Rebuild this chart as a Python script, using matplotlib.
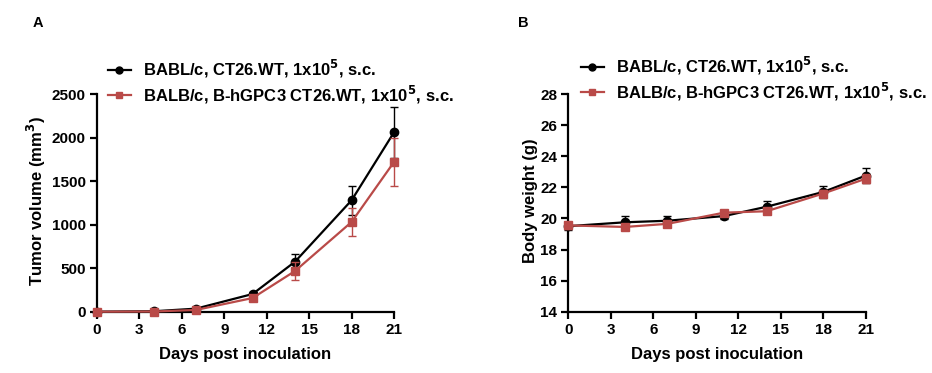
import matplotlib
matplotlib.use("Agg")
import matplotlib.pyplot as plt
from matplotlib.lines import Line2D

plt.rcParams['font.family'] = ['Liberation Sans', 'DejaVu Sans']
plt.rcParams['font.weight'] = 'bold'
plt.rcParams['mathtext.default'] = 'bf'

days = [0, 4, 7, 11, 14, 18, 21]
label_wt = "BABL/c, CT26.WT, 1x10$^{5}$, s.c."
label_hg = "BALB/c, B-hGPC3 CT26.WT, 1x10$^{5}$, s.c."

vol_wt = [0, 5, 35, 203, 574, 1279, 2060]
vol_wt_err = [2, 3, 8, 20, 85, 165, 295]
vol_hg = [0, 2, 20, 157, 467, 1030, 1719]
vol_hg_err = [2, 2, 6, 18, 100, 160, 270]

bw_wt = [19.5, 19.75, 19.85, 20.15, 20.75, 21.7, 22.75]
bw_wt_err = [0.25, 0.4, 0.3, 0.2, 0.35, 0.4, 0.5]
bw_hg = [19.55, 19.45, 19.65, 20.37, 20.46, 21.6, 22.55]
bw_hg_err = [0.2, 0.2, 0.2, 0.2, 0.2, 0.2, 0.3]

xticks = [0, 3, 6, 9, 12, 15, 18, 21]
black = '#000000'
red = '#b94a48'

W, H = 932, 373
fig = plt.figure(figsize=(W / 100, H / 100), dpi=100)
axA = fig.add_axes([97 / W, (H - 311.7) / H, 297 / W, 217.7 / H])
axB = fig.add_axes([568.3 / W, (H - 311.7) / H, 297.4 / W, 217.7 / H])

def style(ax, ylabel, lx):
    for s in ['top', 'right']:
        ax.spines[s].set_visible(False)
    for s in ['left', 'bottom']:
        ax.spines[s].set_linewidth(1.6)
    ax.tick_params(width=1.6, length=5, labelsize=11, direction='out', pad=3)
    for lab in ax.get_xticklabels() + ax.get_yticklabels():
        lab.set_fontweight('bold')
    ax.set_xticks(xticks)
    ax.set_xlim(0, 21)
    ax.set_xlabel('Days post inoculation', fontsize=12, fontweight='bold', labelpad=7)
    ax.set_ylabel(ylabel, fontsize=12, fontweight='bold')
    ax.yaxis.set_label_coords(lx, 0.51)

def draw(ax, y1, e1, y2, e2):
    ax.errorbar(days, y1, yerr=e1, color=black, marker='o', markersize=6,
                linewidth=1.6, elinewidth=1.0, capsize=3, capthick=1.0,
                clip_on=False, zorder=3)
    ax.errorbar(days, y2, yerr=e2, color=red, marker='s', markersize=6,
                linewidth=1.6, elinewidth=1.0, capsize=3, capthick=1.0,
                clip_on=False, zorder=4)

draw(axA, vol_wt, vol_wt_err, vol_hg, vol_hg_err)
axA.set_ylim(0, 2500)
axA.set_yticks([0, 500, 1000, 1500, 2000, 2500])
style(axA, 'Tumor volume (mm$^{3}$)', (48 - 97) / 297)

draw(axB, bw_wt, bw_wt_err, bw_hg, bw_hg_err)
axB.set_ylim(14, 28)
axB.set_yticks([14, 16, 18, 20, 22, 24, 26, 28])
style(axB, 'Body weight (g)', (538 - 568.3) / 297.4)

handles = [Line2D([], [], color=black, marker='o', markersize=5, linewidth=1.6),
           Line2D([], [], color=red, marker='s', markersize=5, linewidth=1.6)]

for x0, y0 in [(108, 58), (581, 55)]:
    fig.legend(handles, [label_wt, label_hg], loc='upper left',
               bbox_to_anchor=(x0 / W, 1 - y0 / H), frameon=False,
               prop={'weight': 'bold', 'size': 12}, handlelength=1.35,
               handletextpad=0.75, labelspacing=0.2, borderaxespad=0,
               borderpad=0)

fig.text(33 / W, 1 - 27 / H, 'A', fontsize=10.5, fontweight='bold')
fig.text(518 / W, 1 - 27 / H, 'B', fontsize=10.5, fontweight='bold')

fig.savefig('out.png', dpi=100)
